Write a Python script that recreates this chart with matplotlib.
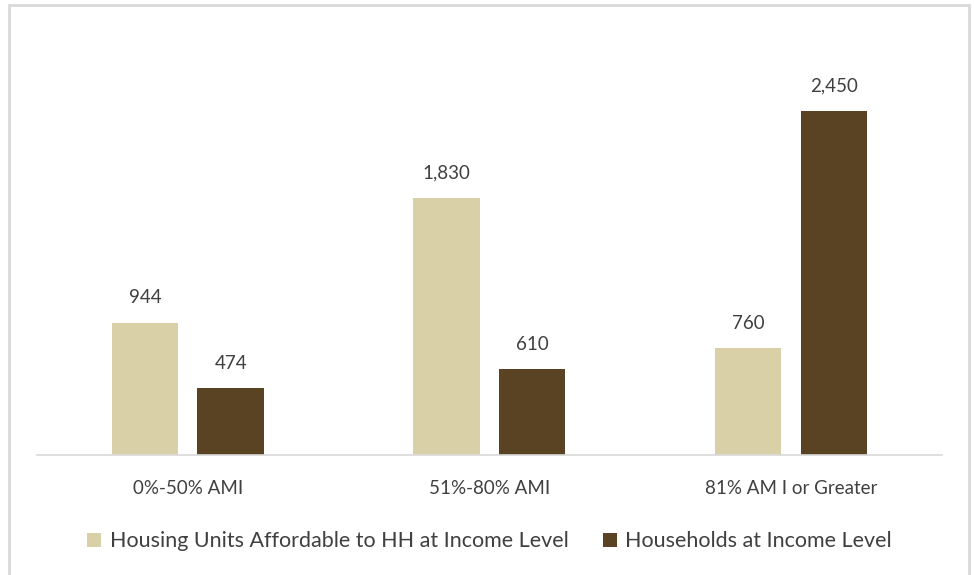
import matplotlib
matplotlib.use("Agg")
import matplotlib.pyplot as plt
import numpy as np
from matplotlib.patches import Rectangle

CATEGORIES = ["0%-50% AMI", "51%-80% AMI", "81% AM I or Greater"]
SERIES_NAMES = ["Housing Units Affordable to HH at Income Level",
                "Households at Income Level"]
UNITS_AFFORDABLE = [944, 1830, 760]
HOUSEHOLDS = [474, 610, 2450]

COLORS = ["#d9d0a7", "#5a4322"]
TEXT_COLOR = "#404040"

plt.rcParams["font.family"] = ["Lato", "DejaVu Sans"]

fig = plt.figure(figsize=(9.74, 5.75), dpi=100)
ax = fig.add_axes([0.038, 0.2087, 0.929, 0.732])

x = np.arange(len(CATEGORIES))
width = 0.22
offset = 0.142
for i, (vals, color, name) in enumerate(zip([UNITS_AFFORDABLE, HOUSEHOLDS], COLORS, SERIES_NAMES)):
    pos = x + (-offset if i == 0 else offset)
    ax.bar(pos, vals, width=width, color=color, label=name)
    for xi, v in zip(pos, vals):
        ax.annotate(f"{v:,}", (xi, v), textcoords="offset points", xytext=(0, 12),
                    ha="center", va="bottom", fontsize=13.5, color=TEXT_COLOR)

ax.set_xlim(-0.5, 2.5)
ax.set_ylim(0, 3000)
ax.set_yticks([])
ax.set_xticks(x)
ax.set_xticklabels(CATEGORIES, fontsize=13.5, color=TEXT_COLOR)
ax.tick_params(axis="x", length=0, pad=18)
ax.spines[["top", "right", "left"]].set_visible(False)
ax.spines["bottom"].set_color("#d9d9d9")
ax.spines["bottom"].set_linewidth(1.2)

ax.legend(loc="center", bbox_to_anchor=(0.5, -0.205), ncol=2, frameon=False,
          fontsize=15.5, labelcolor=TEXT_COLOR, handlelength=0.65, handleheight=0.65,
          handletextpad=0.4, columnspacing=1.6)

# outer chart border
fig.patches.append(Rectangle((0.009, -0.02), 0.986, 1.011, transform=fig.transFigure,
                             fill=False, edgecolor="#d9d9d9", linewidth=2))

fig.savefig("out.png", dpi=100)
